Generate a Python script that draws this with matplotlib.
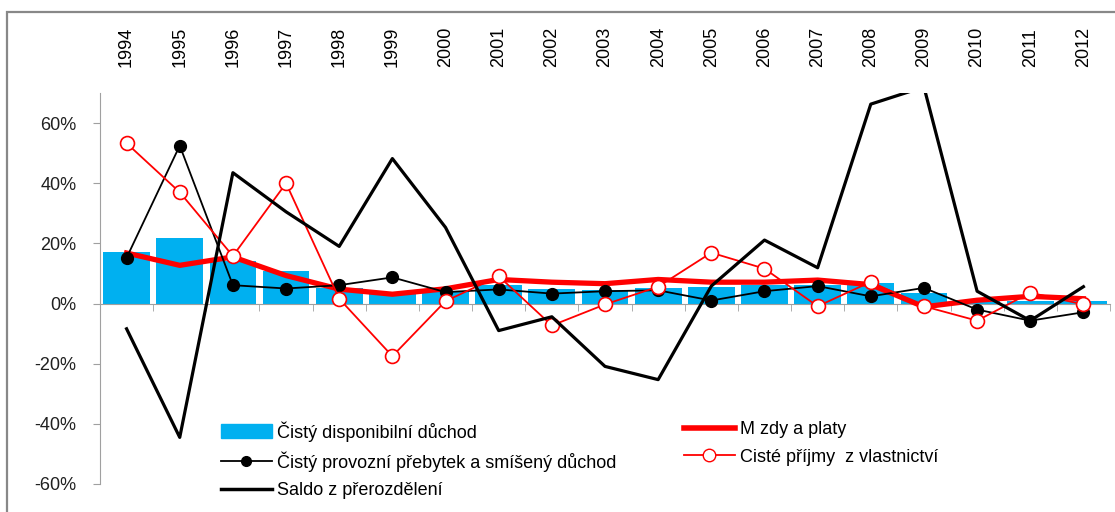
import numpy as np
import matplotlib.pyplot as plt
from matplotlib.patches import Rectangle
from matplotlib.lines import Line2D

plt.rcParams['font.family'] = ['Liberation Sans', 'DejaVu Sans']

years = [str(y) for y in range(1994, 2013)]

# Čistý disponibilní důchod (sloupce)
disponibilni = [17.0, 21.8, 14.0, 10.7, 5.1, 3.8, 4.3, 6.0, 4.7, 4.4, 5.2, 5.6,
                6.0, 6.3, 6.9, 3.6, 0.8, 1.0, 1.0]
# Mzdy a platy
mzdy = [16.8, 12.7, 15.5, 9.3, 4.8, 3.1, 4.9, 8.0, 7.1, 6.6, 8.0, 7.1,
        7.1, 7.8, 6.3, -1.1, 1.1, 2.4, 1.6]
# Čistý provozní přebytek a smíšený důchod
provozni = [15.2, 52.5, 6.1, 5.0, 6.1, 8.7, 3.8, 4.7, 3.3, 4.1, 4.4, 1.0,
            4.1, 5.8, 2.4, 5.2, -2.0, -5.7, -2.9]
# Cisté příjmy z vlastnictví
prijmy = [53.3, 37.0, 15.8, 40.0, 1.6, -17.5, 0.8, 9.1, -7.3, -0.3, 5.6, 16.9,
          11.6, -0.9, 7.2, -0.9, -5.7, 3.6, -0.3]
# Saldo z přerozdělení
saldo = [-8.4, -44.5, 43.5, 30.5, 19.0, 48.2, 25.3, -9.0, -4.4, -20.9, -25.3, 5.8,
         21.1, 11.9, 66.3, 72.0, 4.1, -5.7, 5.6]

labels = ['Čistý disponibilní důchod',
          'Čistý provozní přebytek a smíšený důchod',
          'Saldo z přerozdělení',
          'M zdy a platy',
          'Cisté příjmy  z vlastnictví']

W, H = 1115, 512
fig = plt.figure(figsize=(W / 100, H / 100), dpi=100)
ax = fig.add_axes([100 / W, (H - 484) / H, 1010 / W, 391 / H])

x = np.arange(len(years))
ax.bar(x, disponibilni, width=0.88, color='#00B0F0', zorder=2)
ax.plot(x, mzdy, color='#FF0000', lw=3.8, zorder=3, solid_joinstyle='round')
ax.plot(x, provozni, color='black', lw=1.3, marker='o', ms=8.5,
        mfc='black', mec='black', zorder=4)
ax.plot(x, prijmy, color='#FF0000', lw=1.3, marker='o', ms=10,
        mfc='white', mec='#FF0000', mew=1.2, zorder=5)
ax.plot(x, saldo, color='black', lw=2.3, zorder=6)

ax.set_xlim(-0.5, len(years) - 0.5)
ax.set_ylim(-60, 70)

# osy
for s in ['top', 'right']:
    ax.spines[s].set_visible(False)
ax.spines['bottom'].set_position(('data', 0))
ax.spines['bottom'].set_color('#A0A0A0')
ax.spines['left'].set_color('#A0A0A0')
ax.spines['left'].set_bounds(-60, 70)

ax.set_yticks(np.arange(-60, 61, 20))
ax.set_yticklabels([f'{v}%' for v in range(-60, 61, 20)])
ax.tick_params(axis='y', length=5, color='#A0A0A0', labelsize=13,
               labelcolor='#202020', pad=12)

ax.set_xticks(x)
ax.set_xticklabels(years, rotation=90)
ax.set_xticks(np.arange(len(years) + 1) - 0.5, minor=True)
ax.tick_params(axis='x', which='major', bottom=False, top=False,
               labelbottom=False, labeltop=True, labelsize=13, pad=15)
ax.tick_params(axis='x', which='minor', bottom=True, top=False,
               length=5, color='#A0A0A0', direction='out')

# legenda
h_bar = Rectangle((0, 0), 1, 1, color='#00B0F0')
h_prov = Line2D([], [], color='black', lw=1.3, marker='o', ms=7, mfc='black')
h_saldo = Line2D([], [], color='black', lw=2.5)
h_mzdy = Line2D([], [], color='#FF0000', lw=4)
h_prij = Line2D([], [], color='#FF0000', lw=1.3, marker='o', ms=9,
                mfc='white', mec='#FF0000')

leg_kw = dict(frameon=False, fontsize=13, handlelength=2.8, handleheight=0.85,
              handletextpad=0.3, labelspacing=0.55, borderpad=0,
              borderaxespad=0, loc='upper left', bbox_transform=fig.transFigure)
leg1 = ax.legend([h_bar, h_prov, h_saldo], labels[:3],
                 bbox_to_anchor=(221 / W, 1 - 421 / H), **leg_kw)
ax.add_artist(leg1)
ax.legend([h_mzdy, h_prij], labels[3:],
          bbox_to_anchor=(684 / W, 1 - 421 / H), **leg_kw)

# rámeček grafu
fig.patches.append(Rectangle((7 / W, -0.1), 1.2, 0.1 + (H - 12) / H,
                             transform=fig.transFigure, fill=False,
                             edgecolor='#888888', lw=1.6))

fig.savefig('out.png', dpi=100)
